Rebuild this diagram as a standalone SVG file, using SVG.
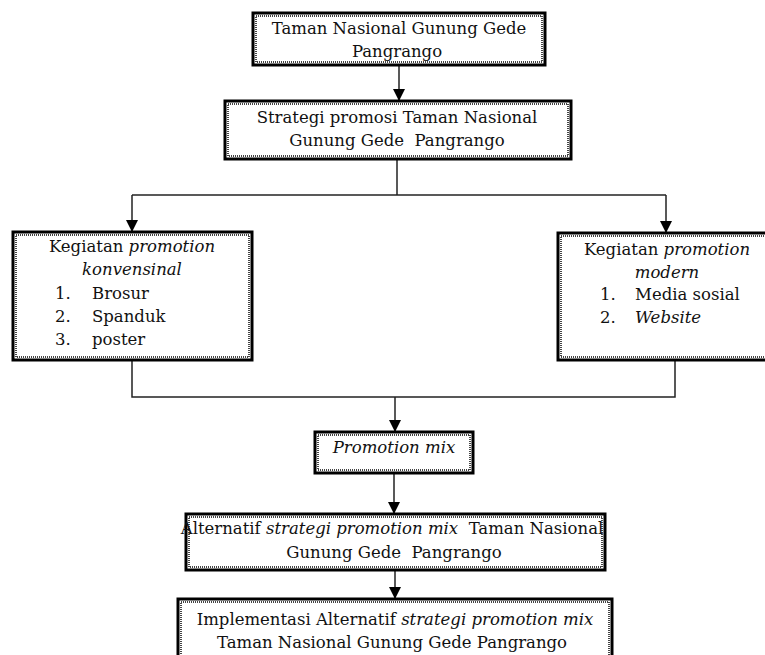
<svg xmlns="http://www.w3.org/2000/svg" width="765" height="655" viewBox="0 0 765 655">
<style>
.frame{fill:#fff;stroke:#000;stroke-width:3}
.dots{fill:none;stroke:#444;stroke-width:2;stroke-dasharray:1 1}
text{font-family:"DejaVu Serif","Liberation Serif",serif;font-size:16.5px;fill:#111;white-space:pre}
.c{text-anchor:middle}
.i{font-style:italic}
.wire{fill:none;stroke:#222;stroke-width:1.5}
</style>
<defs>
<marker id="ah" markerUnits="userSpaceOnUse" markerWidth="12" markerHeight="12" refX="12" refY="6" orient="auto">
<path d="M0,0 L12,6 L0,12 z" fill="#000"/>
</marker>
</defs>
<rect width="765" height="655" fill="#fff"/>
<g id="connectors">
<path class="wire" d="M399,65 V101" marker-end="url(#ah)"/>
<path class="wire" d="M397,159 V195"/>
<path class="wire" d="M132,195 H666"/>
<path class="wire" d="M132,195 V232" marker-end="url(#ah)"/>
<path class="wire" d="M666,195 V233" marker-end="url(#ah)"/>
<path class="wire" d="M132,360 V397 H675 V360"/>
<path class="wire" d="M395,397 V432" marker-end="url(#ah)"/>
<path class="wire" d="M394,473 V514" marker-end="url(#ah)"/>
<path class="wire" d="M395,570 V599" marker-end="url(#ah)"/>
</g>
<g id="n1">
<rect class="frame" x="253" y="13" width="292" height="52"/>
<rect class="dots" x="256" y="16" width="286" height="46"/>
<text class="c" x="399" y="34">Taman Nasional Gunung Gede</text>
<text class="c" x="397" y="57">Pangrango</text>
</g>
<g id="n2">
<rect class="frame" x="225" y="101" width="346" height="58"/>
<rect class="dots" x="228" y="104" width="340" height="52"/>
<text class="c" x="397" y="123">Strategi promosi Taman Nasional</text>
<text class="c" x="397" y="146" xml:space="preserve">Gunung Gede  Pangrango</text>
</g>
<g id="n3">
<rect class="frame" x="13" y="232" width="239" height="128"/>
<rect class="dots" x="16" y="235" width="233" height="122"/>
<text class="c" x="132" y="252">Kegiatan <tspan class="i">promotion</tspan></text>
<text class="c i" x="132" y="275">konvensinal</text>
<text x="55" y="299">1.</text><text x="92" y="299">Brosur</text>
<text x="55" y="322">2.</text><text x="92" y="322">Spanduk</text>
<text x="55" y="345">3.</text><text x="92" y="345">poster</text>
</g>
<g id="n4">
<rect class="frame" x="558" y="233" width="212" height="127"/>
<rect class="dots" x="561" y="236" width="206" height="121"/>
<text class="c" x="667" y="255">Kegiatan <tspan class="i">promotion</tspan></text>
<text class="c i" x="667" y="278">modern</text>
<text x="600" y="300">1.</text><text x="635" y="300">Media sosial</text>
<text x="600" y="323">2.</text><text class="i" x="635" y="323">Website</text>
</g>
<g id="n5">
<rect class="frame" x="315" y="432" width="158" height="41"/>
<rect class="dots" x="318" y="435" width="152" height="35"/>
<text class="c i" x="394" y="453">Promotion mix</text>
</g>
<g id="n6">
<rect class="frame" x="186" y="514" width="419" height="56"/>
<rect class="dots" x="189" y="517" width="413" height="50"/>
<text class="c" x="392" y="534" xml:space="preserve">Alternatif <tspan class="i">strategi promotion mix</tspan>  Taman Nasional</text>
<text class="c" x="394" y="558" xml:space="preserve">Gunung Gede  Pangrango</text>
</g>
<g id="n7">
<rect class="frame" x="178" y="599" width="434" height="72"/>
<rect class="dots" x="181" y="602" width="428" height="66"/>
<text class="c" x="395" y="625">Implementasi Alternatif <tspan class="i">strategi promotion mix</tspan></text>
<text class="c" x="392" y="648">Taman Nasional Gunung Gede Pangrango</text>
</g>
</svg>
